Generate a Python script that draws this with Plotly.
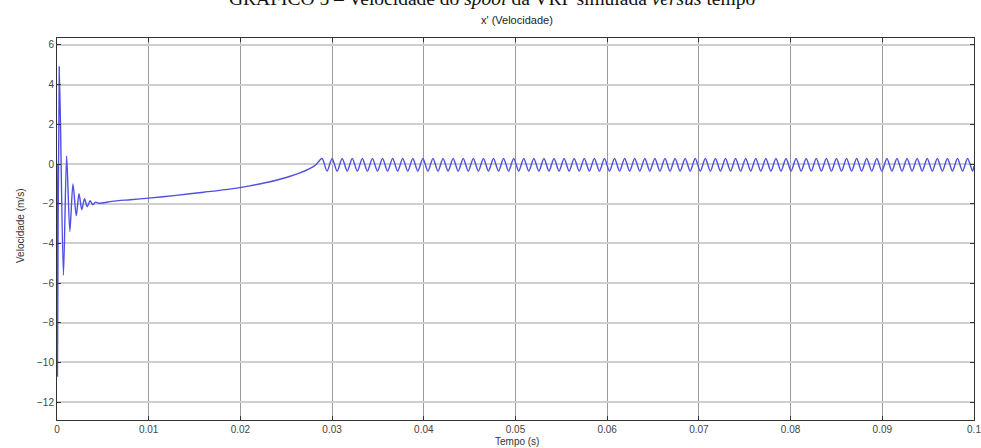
import plotly.graph_objects as go

# ---- data ----
# transient (start-up oscillation and slow rise)
t_transient = [0.0, 0.00005, 0.00025, 0.0007, 0.00105, 0.0014, 0.00174, 0.0021, 0.0024,
               0.0027, 0.0030, 0.0033, 0.0036, 0.0039, 0.0042, 0.0046, 0.0060, 0.0080,
               0.0100, 0.0130, 0.0160, 0.0190, 0.0210, 0.0230, 0.0250, 0.0265, 0.0275,
               0.0282]
v_transient = [0.0, -10.7, 4.9, -5.6, 0.4, -3.4, -1.0, -2.6, -1.5,
               -2.3, -1.75, -2.15, -1.85, -2.05, -1.92, -1.98, -1.88, -1.8,
               -1.72, -1.58, -1.42, -1.25, -1.1, -0.92, -0.68, -0.45, -0.25,
               -0.05]

# steady oscillation: peak / trough times and values
t_peaks = [0.0289, 0.0300, 0.0311, 0.0322, 0.0333, 0.0344, 0.0355, 0.0366, 0.0377, 0.0388,
           0.0399, 0.0410, 0.0421, 0.0432, 0.0443, 0.0454, 0.0465, 0.0476, 0.0487, 0.0498,
           0.0509, 0.0520, 0.0531, 0.0542, 0.0553, 0.0564, 0.0575, 0.0586, 0.0597, 0.0608,
           0.0619, 0.0630, 0.0641, 0.0652, 0.0663, 0.0674, 0.0685, 0.0696, 0.0707, 0.0718,
           0.0729, 0.0740, 0.0751, 0.0762, 0.0773, 0.0784, 0.0795, 0.0806, 0.0817, 0.0828,
           0.0839, 0.0850, 0.0861, 0.0872, 0.0883, 0.0894, 0.0905, 0.0916, 0.0927, 0.0938,
           0.0949, 0.0960, 0.0971, 0.0982, 0.0993]
t_troughs = [0.02945, 0.03055, 0.03165, 0.03275, 0.03385, 0.03495, 0.03605, 0.03715, 0.03825, 0.03935,
             0.04045, 0.04155, 0.04265, 0.04375, 0.04485, 0.04595, 0.04705, 0.04815, 0.04925, 0.05035,
             0.05145, 0.05255, 0.05365, 0.05475, 0.05585, 0.05695, 0.05805, 0.05915, 0.06025, 0.06135,
             0.06245, 0.06355, 0.06465, 0.06575, 0.06685, 0.06795, 0.06905, 0.07015, 0.07125, 0.07235,
             0.07345, 0.07455, 0.07565, 0.07675, 0.07785, 0.07895, 0.08005, 0.08115, 0.08225, 0.08335,
             0.08445, 0.08555, 0.08665, 0.08775, 0.08885, 0.08995, 0.09105, 0.09215, 0.09325, 0.09435,
             0.09545, 0.09655, 0.09765, 0.09875, 0.09985]
peak_value = 0.28
trough_value = -0.36
t_end = 0.1
v_end = -0.1

x_ticks = [0, 0.01, 0.02, 0.03, 0.04, 0.05, 0.06, 0.07, 0.08, 0.09, 0.1]
x_ticklabels = ["0", "0.01", "0.02", "0.03", "0.04", "0.05", "0.06", "0.07", "0.08", "0.09", "0.1"]
y_ticks = [6, 4, 2, 0, -2, -4, -6, -8, -10, -12]

# ---- assemble the series ----
t_all = list(t_transient)
v_all = list(v_transient)
for tp, tt in zip(t_peaks, t_troughs):
    t_all += [tp, tt]
    v_all += [peak_value, trough_value]
t_all.append(t_end)
v_all.append(v_end)

W, H = 981, 448
ML, MR, MT, MB = 57, 7, 38, 28
PW, PH = W - ML - MR, H - MT - MB

fig = go.Figure()
fig.add_trace(go.Scatter(
    x=t_all, y=v_all, mode="lines",
    line=dict(color="#4f4fe4", width=1.4, shape="spline", smoothing=0.8),
    hoverinfo="skip", showlegend=False,
))

font_main = "Liberation Sans, Arial, sans-serif"

fig.update_layout(
    width=W, height=H,
    margin=dict(l=ML, r=MR, t=MT, b=MB, autoexpand=False),
    paper_bgcolor="white", plot_bgcolor="white",
    font=dict(family=font_main, size=10, color="#444"),
)
fig.update_xaxes(
    range=[0, 0.1], tickvals=x_ticks, ticktext=x_ticklabels,
    showgrid=True, gridcolor="#9a9a9a", gridwidth=1,
    showline=True, linecolor="#333", linewidth=1, mirror="ticks",
    ticks="inside", ticklen=4, tickcolor="#333",
    zeroline=False, automargin=False, ticklabeloverflow="allow",
)
fig.update_yaxes(
    range=[-12.9, 6.35], tickvals=y_ticks,
    showgrid=True, gridcolor="#cfcfcf", gridwidth=2,
    showline=True, linecolor="#333", linewidth=1, mirror="ticks",
    ticks="inside", ticklen=4, tickcolor="#333",
    zeroline=False, automargin=False,
)

# axis titles and plot title as paper annotations
fig.add_annotation(text="x' (Velocidade)", xref="paper", yref="paper",
                   x=(517 - ML) / PW, y=1 + (MT - 20) / PH, xanchor="center", yanchor="middle",
                   showarrow=False, font=dict(size=11, color="#222"))
fig.add_annotation(text="Tempo (s)", xref="paper", yref="paper",
                   x=(517 - ML) / PW, y=-(441 - (MT + PH)) / PH, xanchor="center", yanchor="middle",
                   showarrow=False, font=dict(size=10, color="#333"))
fig.add_annotation(text="Velocidade (m/s)", xref="paper", yref="paper",
                   x=-(ML - 20) / PW, y=(MT + PH - 226) / PH, xanchor="center", yanchor="middle",
                   textangle=-90, showarrow=False, font=dict(size=10, color="#333"))

# caption of the figure, cut off by the top edge as in the source scan
fig.add_annotation(
    text="GRÁFICO 5 – Velocidade do <i>spool</i> da VRP simulada <i>versus</i> tempo",
    xref="paper", yref="paper", x=(492 - ML) / PW, xanchor="center",
    y=1 + (MT + 2) / PH, yanchor="middle", showarrow=False,
    font=dict(family="Liberation Serif, Times New Roman, serif", size=19.5, color="#111"),
)

# remove the default page margin so the figure sits at the window's top-left corner
fig.write_html("out.html", config={"displayModeBar": False},
               post_script="document.body.style.margin='0';")
